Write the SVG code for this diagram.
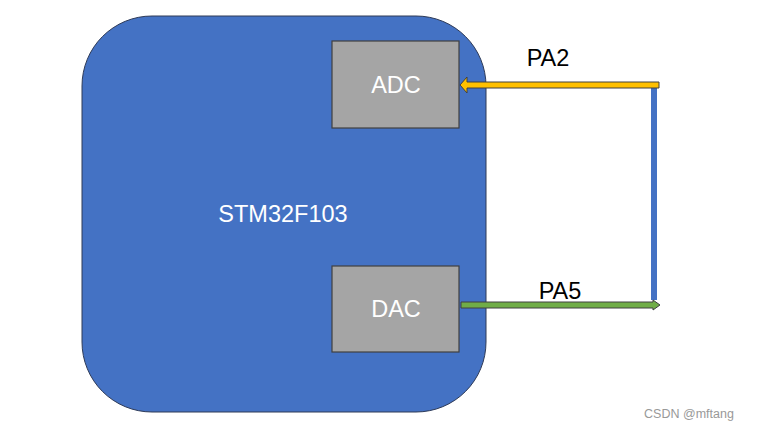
<svg xmlns="http://www.w3.org/2000/svg" width="757" height="432" viewBox="0 0 757 432">
<style>
.box{fill:#A5A5A5;stroke:#404040;stroke-width:1.2}
.wt{fill:#fff;font-family:"Liberation Sans",Arial,sans-serif;font-size:23.5px;text-anchor:middle}
.lbl{fill:#000;font-family:"Liberation Sans",Arial,sans-serif;font-size:23.5px;text-anchor:middle}
</style>
<rect width="757" height="432" fill="#fff"/>
<g id="mcu">
<rect x="82" y="16" width="404" height="396" rx="70" ry="70" fill="#4472C4" stroke="#2F3B57" stroke-width="1"/>
<text class="wt" x="283" y="222">STM32F103</text>
</g>
<g id="adc">
<rect class="box" x="332" y="41" width="127" height="87"/>
<text class="wt" x="396" y="93">ADC</text>
</g>
<g id="dac">
<rect class="box" x="332" y="266" width="127" height="86"/>
<text class="wt" x="396" y="317">DAC</text>
</g>
<g id="connectors">
<rect x="651" y="84" width="6" height="216" fill="#4472C4"/>
<path d="M659,82 L467,82 L467,77 L460,85 L467,93 L467,88 L659,88 Z" fill="#FFC000" stroke="#404040" stroke-width="1"/>
<path d="M461,302 L653,302 L653,300 L660,305 L653,310 L653,308 L461,308 Z" fill="#70AD47" stroke="#404040" stroke-width="1"/>
<text class="lbl" x="548" y="66">PA2</text>
<text class="lbl" x="560" y="299">PA5</text>
</g>
<text x="689" y="418" fill="#999" font-family="'Liberation Sans',Arial,sans-serif" font-size="12.5" text-anchor="middle">CSDN @mftang</text>
</svg>
